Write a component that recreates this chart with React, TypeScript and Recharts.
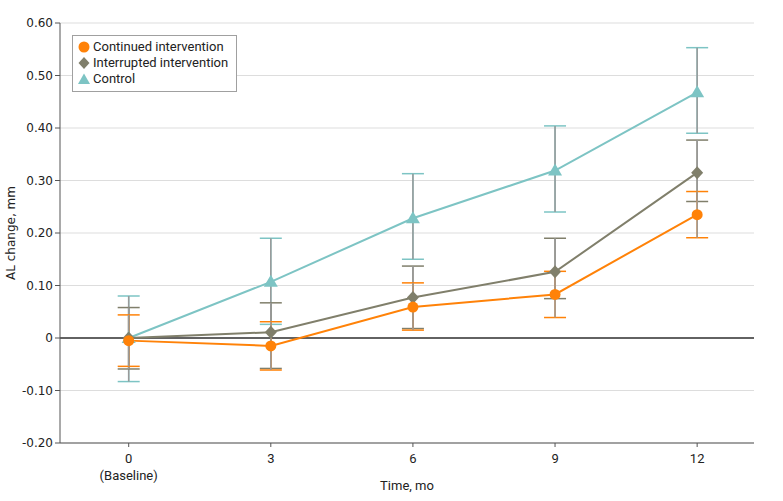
import { LineChart, Line, XAxis, YAxis, CartesianGrid, ReferenceLine, ErrorBar, Legend } from 'recharts';

const months = [0, 3, 6, 9, 12];
const yTicks = [-0.2, -0.1, 0, 0.1, 0.2, 0.3, 0.4, 0.5, 0.6];

const continued = [-0.005, -0.015, 0.059, 0.083, 0.235];
const continuedLow = [-0.054, -0.061, 0.015, 0.039, 0.191];
const continuedHigh = [0.044, 0.031, 0.105, 0.127, 0.279];

const interrupted = [0, 0.011, 0.077, 0.126, 0.315];
const interruptedLow = [-0.059, -0.058, 0.018, 0.075, 0.26];
const interruptedHigh = [0.058, 0.067, 0.137, 0.19, 0.377];

const control = [0, 0.107, 0.228, 0.319, 0.468];
const controlLow = [-0.083, 0.026, 0.15, 0.24, 0.39];
const controlHigh = [0.08, 0.19, 0.313, 0.404, 0.553];

const ORANGE = '#FF8208';
const GRAY = '#807F6B';
const TEAL = '#7DC4C4';
const BAR = '#9A9A9A';
const NARROW = "Roboto, 'Liberation Sans', sans-serif";

const data = months.map((m, i) => ({
    month: m,
    continued: continued[i],
    continuedErr: [continued[i] - continuedLow[i], continuedHigh[i] - continued[i]],
    interrupted: interrupted[i],
    interruptedErr: [interrupted[i] - interruptedLow[i], interruptedHigh[i] - interrupted[i]],
    control: control[i],
    controlErr: [control[i] - controlLow[i], controlHigh[i] - control[i]],
}));

const CircleDot = (p: any) => <circle key={p.index} cx={p.cx} cy={p.cy} r={5.5} fill={ORANGE} />;
const DiamondDot = (p: any) => (
    <path key={p.index} d={`M${p.cx},${p.cy - 6.5}L${p.cx + 6},${p.cy}L${p.cx},${p.cy + 6.5}L${p.cx - 6},${p.cy}Z`} fill={GRAY} />
);
const TriangleDot = (p: any) => (
    <path key={p.index} d={`M${p.cx},${p.cy - 7}L${p.cx + 7},${p.cy + 5}L${p.cx - 7},${p.cy + 5}Z`} fill={TEAL} />
);

const XTick = ({ x, y, payload }: any) => (
    <g transform={`translate(${x},${y})`}>
        <text x={0} y={14} textAnchor="middle" fontSize={13} fontFamily={NARROW} fill="#222">{payload.value}</text>
        {payload.value === 0 && (
            <text x={0} y={31} textAnchor="middle" fontSize={13} fontFamily={NARROW} fill="#222">(Baseline)</text>
        )}
    </g>
);

const LegendBox = () => (
    <div style={{ border: '1px solid #A0A0A0', background: '#fff', padding: '3px 8px 4px 5px', fontFamily: NARROW, fontSize: 13, color: '#222', lineHeight: '16px', whiteSpace: 'nowrap' }}>
        <div style={{ display: 'flex', alignItems: 'center' }}>
            <svg width={12} height={12} style={{ marginRight: 3 }}><circle cx={6} cy={6} r={5.5} fill={ORANGE} /></svg>
            Continued intervention
        </div>
        <div style={{ display: 'flex', alignItems: 'center' }}>
            <svg width={12} height={12} style={{ marginRight: 3 }}><path d="M6,0L11.5,6L6,12L0.5,6Z" fill={GRAY} /></svg>
            Interrupted intervention
        </div>
        <div style={{ display: 'flex', alignItems: 'center' }}>
            <svg width={12} height={12} style={{ marginRight: 3 }}><path d="M6,0.5L12,11L0,11Z" fill={TEAL} /></svg>
            Control
        </div>
    </div>
);

const errorSeries = [
    { key: 'control', color: TEAL },
    { key: 'interrupted', color: GRAY },
    { key: 'continued', color: ORANGE },
];

export default function App() {
    return (
        <div style={{ position: 'absolute', left: 0, top: 0, background: '#fff' }}>
            <LineChart width={783} height={501} data={data} margin={{ top: 23, right: 29, left: 0, bottom: 0 }}>
                <CartesianGrid vertical={false} stroke="#DDDDDD" strokeWidth={1} />
                <XAxis
                    dataKey="month"
                    type="number"
                    domain={[-1.45, 13.2]}
                    ticks={months}
                    tick={<XTick />}
                    tickSize={4}
                    height={58}
                    stroke="#555"
                    allowDataOverflow
                    label={{ value: 'Time, mo', position: 'insideBottom', offset: 11, fontSize: 13, fontFamily: NARROW, fill: '#222' }}
                />
                <YAxis
                    type="number"
                    domain={[-0.2, 0.6]}
                    ticks={yTicks}
                    width={60}
                    tickSize={5}
                    stroke="#555"
                    tick={{ fontSize: 12, fontFamily: 'DejaVu Sans', fill: '#222' }}
                    tickFormatter={(v: number) => (v === 0 ? '0' : v.toFixed(2))}
                    label={{
                        value: 'AL change, mm',
                        content: () => (
                            <text x={15} y={233} transform="rotate(-90 15 233)" textAnchor="middle" fontSize={12} fontFamily="DejaVu Sans" fill="#222">AL change, mm</text>
                        ),
                    }}
                />
                <ReferenceLine y={0} stroke="#333" strokeWidth={1.5} />
                <Legend
                    layout="vertical"
                    align="center"
                    verticalAlign="middle"
                    content={<LegendBox />}
                    wrapperStyle={{ left: 72, top: 35, width: 'auto' }}
                />

                {/* error bars: colored caps, then gray stems on top */}
                {errorSeries.map((s) => (
                    <Line key={s.key + 'err'} dataKey={s.key} stroke="none" dot={false} activeDot={false} legendType="none" isAnimationActive={false}>
                        <ErrorBar dataKey={s.key + 'Err'} direction="y" width={11} stroke={s.color} strokeWidth={1.5} isAnimationActive={false} />
                        <ErrorBar dataKey={s.key + 'Err'} direction="y" width={0} stroke={BAR} strokeWidth={1.5} isAnimationActive={false} />
                    </Line>
                ))}

                <Line dataKey="control" stroke={TEAL} strokeWidth={2} dot={<TriangleDot />} activeDot={false} isAnimationActive={false} />
                <Line dataKey="interrupted" stroke={GRAY} strokeWidth={2} dot={<DiamondDot />} activeDot={false} isAnimationActive={false} />
                <Line dataKey="continued" stroke={ORANGE} strokeWidth={2} dot={<CircleDot />} activeDot={false} isAnimationActive={false} />
            </LineChart>
        </div>
    );
}
